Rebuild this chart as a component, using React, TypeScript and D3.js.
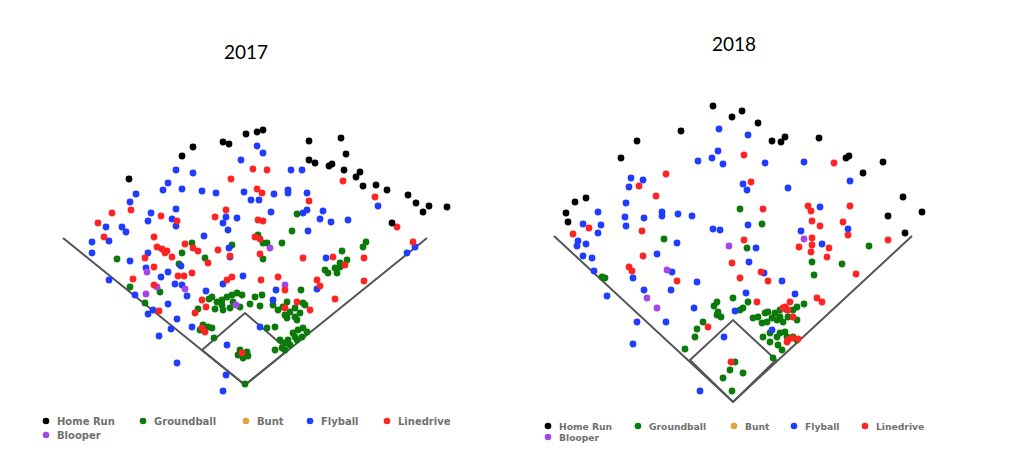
import React from "react";
import * as d3 from "d3";

type Pt = [number, number];

// ---- 2017 (x = horizontal spray offset, y = depth offset, chart units) ----
const hr2017: Pt[] = [[12,253],[18,255],[1,251],[-22,243],[-16,241],[-52,238],[-63,229],[-116,206],[64,244],[96,247],[101,231],[64,225],[70,222],[84,219],[87,221],[99,215],[115,213],[111,208],[118,199],[131,200],[142,195],[163,190],[171,182],[184,179],[178,173],[202,178],[147,162]];
const ld2017: Pt[] = [[8,216],[-14,206],[12,196],[-114,175],[-133,172],[-84,169],[-68,164],[-147,162],[-30,168],[-19,175],[10,148],[-141,148],[-91,148],[-88,138],[-83,136],[-78,134],[-73,128],[-80,132],[-60,141],[-52,137],[-47,134],[-37,122],[-27,135],[-15,129],[-100,127],[-91,118],[22,215],[17,192],[64,184],[13,165],[18,164],[15,146],[15,131],[152,158],[98,204],[130,188],[168,143],[58,127],[88,128],[119,127],[100,120],[-67,109],[-61,109],[-53,112],[-91,100],[-112,106],[-86,74],[-43,85],[-50,72],[-39,78],[-18,105],[-13,108],[16,105],[-43,57],[-40,53],[-3,32],[119,104],[90,86],[72,105],[75,99],[33,108],[40,95],[40,77],[52,83],[65,75]];
const gb2017: Pt[] = [[-53,142],[-63,132],[-40,127],[-13,140],[-128,126],[52,171],[47,154],[13,150],[18,142],[22,142],[37,142],[18,126],[121,143],[118,138],[97,134],[102,125],[95,118],[-66,121],[-85,93],[-115,98],[-100,82],[-47,76],[-33,88],[-28,83],[-23,85],[-18,88],[-13,90],[-8,92],[-3,90],[-22,75],[-15,77],[-5,78],[-12,83],[-30,76],[-23,80],[-36,86],[10,88],[15,79],[17,90],[5,81],[56,95],[-42,60],[-37,58],[-33,57],[-45,55],[-31,47],[-5,35],[2,33],[3,29],[-2,27],[-7,30],[0,1],[28,80],[33,75],[38,78],[42,83],[45,73],[40,70],[50,77],[55,72],[58,82],[50,68],[60,80],[52,65],[42,67],[22,57],[30,58],[35,45],[40,42],[43,45],[48,52],[53,55],[58,57],[62,53],[57,48],[52,45],[45,40],[37,37],[30,35],[40,35],[50,48],[80,115],[83,112],[92,112],[90,117],[95,122]];
const fb2017: Pt[] = [[12,239],[18,232],[-4,225],[-69,215],[-52,212],[-77,202],[-82,195],[-63,196],[-43,194],[-29,192],[-1,193],[6,185],[14,185],[-109,191],[-115,183],[-69,176],[-94,172],[-97,164],[-69,159],[-73,166],[-139,158],[-123,158],[-119,153],[-19,168],[-22,162],[-8,167],[-17,155],[-41,149],[-136,144],[-153,143],[-153,132],[-16,137],[-15,128],[-115,124],[-97,132],[-64,119],[-99,117],[46,215],[57,215],[29,191],[43,195],[43,192],[62,192],[26,173],[58,172],[62,175],[78,174],[75,166],[86,163],[103,165],[63,154],[133,179],[170,138],[162,132],[81,127],[-136,105],[-84,108],[-77,113],[-70,101],[-63,100],[-58,89],[-110,90],[-97,71],[-92,75],[-77,81],[-68,66],[-74,56],[-86,49],[-39,94],[-68,22],[-22,101],[-2,109],[-53,58],[-18,40],[-19,10],[-22,-6],[31,95],[72,96],[28,85],[15,58]];
const bl2017: Pt[] = [[25,137],[-98,113],[-60,96],[-88,98],[-99,91],[-9,80],[40,100]];
const bu2017: Pt[] = [];

// ---- 2018 ----
const hr2018: Pt[] = [[-20,296],[9,291],[-1,285],[-52,271],[-96,261],[-112,244],[-158,200],[-147,204],[-167,189],[-165,180],[25,279],[39,261],[48,260],[52,265],[86,264],[113,244],[116,246],[150,240],[130,229],[170,205],[189,190],[155,186],[172,169]];
const ld2018: Pt[] = [[11,247],[-67,228],[-94,216],[-77,206],[-144,174],[-160,168],[-91,171],[11,162],[18,220],[101,239],[30,193],[75,196],[78,191],[79,181],[87,176],[117,196],[110,180],[115,167],[79,164],[79,157],[78,150],[66,155],[96,154],[94,145],[155,162],[-90,146],[-104,135],[-101,131],[-56,121],[-1,139],[7,124],[-25,75],[-2,40],[123,128],[28,130],[35,121],[84,104],[89,100],[52,95],[57,100],[55,92],[50,94],[60,85],[24,100],[55,62],[59,64],[65,63],[54,60]];
const gb2018: Pt[] = [[-69,163],[7,193],[14,154],[29,178],[136,156],[-131,125],[-128,124],[-16,100],[-19,96],[-15,90],[-12,85],[-16,87],[0,104],[7,92],[10,94],[15,100],[-30,80],[-36,73],[-38,65],[-48,53],[2,40],[-3,32],[-10,24],[10,29],[-1,11],[79,140],[81,127],[109,138],[60,92],[64,95],[71,98],[20,84],[25,85],[32,89],[35,90],[39,84],[42,89],[44,82],[47,92],[47,85],[50,80],[55,85],[54,92],[29,79],[34,80],[64,82],[30,65],[37,60],[45,57],[49,52],[47,69],[52,70],[54,65],[60,65],[64,62],[44,65],[37,69],[40,44]];
const fb2018: Pt[] = [[-14,273],[15,267],[-15,251],[-21,244],[-10,238],[-35,241],[-102,224],[-104,215],[-90,222],[-107,199],[-135,190],[-108,185],[-107,176],[-89,184],[-71,190],[-71,186],[-55,188],[-41,186],[-150,178],[-132,177],[-135,169],[-155,161],[-147,158],[-156,156],[-56,159],[-20,173],[-13,172],[10,218],[14,212],[15,177],[32,239],[71,240],[117,221],[55,214],[87,195],[115,173],[68,171],[89,158],[23,154],[-150,146],[-141,144],[-139,131],[-126,106],[-76,148],[-100,124],[-61,130],[-36,120],[-89,112],[-62,112],[-96,80],[-67,80],[-100,58],[-39,94],[16,140],[2,91],[13,109],[-9,65],[-33,11],[31,129],[49,121],[62,108],[39,72]];
const bl2018: Pt[] = [[-4,156],[71,163],[-66,132],[-86,104],[-76,94]];
const bu2018: Pt[] = [];

// field geometry (chart units): foul-line ends and bases (3B, 2B, 1B)
const foul2017: Pt[] = [[-182,147],[0,0],[182,147]];
const bases2017: Pt[] = [[-43,35],[0,72],[43,35]];
const foul2018: Pt[] = [[-179,166],[0,0],[179,166]];
const bases2018: Pt[] = [[-43,42],[0,82],[43,42]];

const legendLabels = ["Home Run", "Groundball", "Bunt", "Flyball", "Linedrive", "Blooper"];
const legendColors = ["#000000", "#0b7a0b", "#e6a23a", "#1f3cff", "#ff2424", "#a446e8"];

interface Series { key: string; color: string; pts: Pt[] }

function makeSeries(hr: Pt[], gb: Pt[], bu: Pt[], fb: Pt[], ld: Pt[], bl: Pt[]): Series[] {
  // draw order: ground, fly, blooper, line, bunt, home run
  return [
    { key: "gb", color: legendColors[1], pts: gb },
    { key: "fb", color: legendColors[3], pts: fb },
    { key: "bl", color: legendColors[5], pts: bl },
    { key: "ld", color: legendColors[4], pts: ld },
    { key: "bu", color: legendColors[2], pts: bu },
    { key: "hr", color: legendColors[0], pts: hr },
  ];
}

interface ChartProps {
  title: string;
  titleX: number;
  titleY: number;
  homeX: number;
  homeY: number;
  series: Series[];
  foul: Pt[];
  bases: Pt[];
  legendX: number[];
  legendY: number[];
  legendFont: number;
}

function SprayChart(p: ChartProps) {
  const x = d3.scaleLinear().domain([-200, 200]).range([p.homeX - 200, p.homeX + 200]);
  const y = d3.scaleLinear().domain([0, 320]).range([p.homeY, p.homeY - 320]);
  const line = d3.line<Pt>().x(d => x(d[0])).y(d => y(d[1]));
  const diamond: Pt[] = [[0, 0], p.bases[0], p.bases[1], p.bases[2], [0, 0]];
  return (
    <g>
      <text x={p.titleX} y={p.titleY} textAnchor="middle" fontFamily="Lato, 'Open Sans', sans-serif" fontSize={19} fill="#000">{p.title}</text>
      <path d={line(p.foul) || ""} fill="none" stroke="#555" strokeWidth={2} />
      <path d={line(diamond) || ""} fill="none" stroke="#555" strokeWidth={2} />
      {p.series.map(s => (
        <g key={s.key}>
          {s.pts.map((d, i) => (
            <circle key={i} cx={x(d[0])} cy={y(d[1])} r={3.4} fill={s.color} />
          ))}
        </g>
      ))}
      {legendLabels.map((lab, i) => {
        const row = i < 5 ? 0 : 1;
        const lx = i < 5 ? p.legendX[i] : p.legendX[0];
        const ly = p.legendY[row];
        return (
          <g key={lab}>
            <circle cx={lx} cy={ly} r={3.3} fill={legendColors[i]} />
            <text x={lx + 11} y={ly + 3.5} fontFamily="'DejaVu Sans', Verdana, sans-serif" fontWeight="bold" fontSize={p.legendFont} fill="#707070">{lab}</text>
          </g>
        );
      })}
    </g>
  );
}

export default function App() {
  return (
    <svg width={1014} height={474} style={{ position: "absolute", left: 0, top: 0, background: "#fff" }}>
      <rect x={0} y={0} width={1014} height={474} fill="#fff" />
      <SprayChart
        title="2017" titleX={246} titleY={59}
        homeX={245} homeY={385}
        series={makeSeries(hr2017, gb2017, bu2017, fb2017, ld2017, bl2017)}
        foul={foul2017} bases={bases2017}
        legendX={[46, 143, 246, 310, 387]} legendY={[421, 435]} legendFont={10}
      />
      <SprayChart
        title="2018" titleX={734} titleY={51}
        homeX={733} homeY={402}
        series={makeSeries(hr2018, gb2018, bu2018, fb2018, ld2018, bl2018)}
        foul={foul2018} bases={bases2018}
        legendX={[548, 638, 734, 794, 865]} legendY={[426, 437]} legendFont={9.2}
      />
    </svg>
  );
}
